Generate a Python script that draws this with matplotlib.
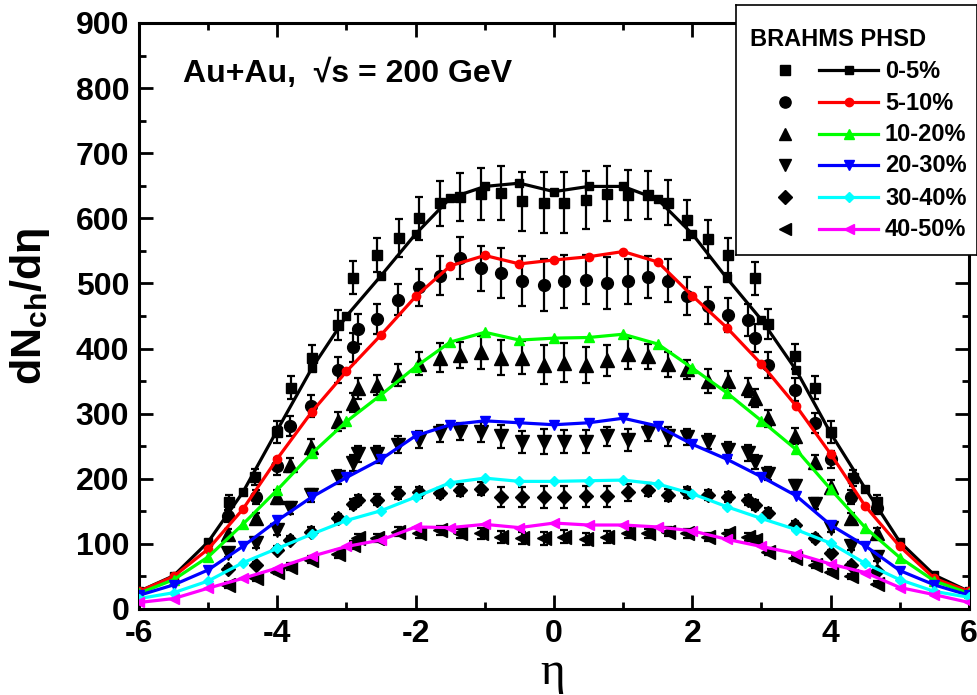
import matplotlib
matplotlib.use("Agg")
import matplotlib.pyplot as plt
from matplotlib.ticker import MultipleLocator, FuncFormatter

plt.rcParams['font.family'] = ['Liberation Sans', 'DejaVu Sans']
plt.rcParams['font.weight'] = 'bold'
plt.rcParams['mathtext.fontset'] = 'custom'
plt.rcParams['mathtext.rm'] = 'Liberation Sans:bold'
plt.rcParams['mathtext.it'] = 'Liberation Sans:bold'
plt.rcParams['mathtext.bf'] = 'Liberation Sans:bold'

# ---------------- data ----------------
centralities = ['0-5%', '5-10%', '10-20%', '20-30%', '30-40%', '40-50%']
line_colors = ['#000000', '#ff0000', '#00ff00', '#0000ff', '#00ffff', '#ff00ff']
marker_shapes = ['s', 'o', '^', 'v', 'D', '<']

# BRAHMS pseudorapidity points (0-5% set, and the set used for the other classes)
eta_brahms_a = [-4.70, -4.32, -4.00, -3.80, -3.50, -3.12, -2.90, -2.56, -2.24, -1.95,
                -1.65, -1.36, -1.06, -0.76, -0.46, -0.15, 0.15, 0.46, 0.76, 1.07,
                1.36, 1.65, 1.93, 2.22, 2.52, 2.91, 3.10, 3.48, 3.77, 4.01, 4.33, 4.67]
eta_brahms_b = [-4.72, -4.31, -4.00, -3.82, -3.52, -3.12, -2.90, -2.83, -2.56, -2.25,
                -1.95, -1.65, -1.36, -1.06, -0.76, -0.46, -0.15, 0.15, 0.46, 0.76,
                1.07, 1.36, 1.65, 1.93, 2.22, 2.52, 2.81, 2.91, 3.10, 3.48, 3.77,
                4.01, 4.30, 4.67]

brahms_0_5 = [165, 203, 272, 340, 386, 436, 509, 544, 570, 600,
              623, 633, 638, 639, 626, 624, 624, 628, 638, 636,
              636, 624, 597, 568, 543, 508, 438, 388, 340, 272, 201, 165]
brahms_0_5_err = [10, 12, 17, 18, 19, 23, 25, 26, 29, 33,
                  35, 37, 40, 42, 45, 47, 47, 44, 42, 39,
                  37, 35, 31, 29, 27, 25, 23, 19, 18, 17, 12, 10]

brahms_5_10 = [143, 172, 219, 281, 312, 367, 402, 430, 446, 475,
               494, 512, 539, 523, 516, 504, 497, 503, 506, 500,
               503, 510, 504, 481, 466, 452, 444, 416, 375, 337, 286,
               230, 172, 155]
brahms_5_10_err = [9, 11, 13, 15, 17, 20, 22, 23, 23, 24,
                   28, 30, 32, 35, 38, 38, 40, 40, 38, 40,
                   35, 32, 33, 29, 28, 26, 24, 22, 20, 18, 15,
                   13, 11, 9]

brahms_10_20 = [115, 139, 172, 221, 249, 288, 317, 339, 344, 359,
                377, 386, 390, 394, 386, 386, 375, 378, 375, 382,
                392, 388, 376, 368, 350, 350, 340, 324, 293, 266, 226,
                188, 139, 116]
brahms_10_20_err = [8, 9, 10, 11, 12, 14, 15, 16, 16, 17,
                    18, 22, 20, 25, 27, 25, 30, 30, 28, 24,
                    24, 19, 19, 15, 19, 15, 15, 14, 13, 12, 11,
                    10, 9, 8]

brahms_20_30 = [86, 101, 121, 155, 175, 203, 224, 238, 238, 252,
                260, 270, 272, 272, 265, 257, 257, 257, 257, 265,
                260, 270, 265, 264, 257, 244, 240, 226, 208, 189, 162,
                125, 96, 80]
brahms_20_30_err = [6, 7, 8, 9, 10, 11, 12, 12, 13, 13,
                    13, 13, 13, 15, 17, 17, 19, 18, 18, 14,
                    17, 12, 14, 12, 12, 12, 12, 11, 10, 9, 8,
                    7, 6, 6]

brahms_30_40 = [62, 68, 91, 106, 119, 139, 161, 167, 168, 178,
                179, 178, 183, 185, 172, 172, 172, 172, 173, 173,
                179, 183, 175, 179, 175, 172, 167, 160, 148, 129, 109,
                86, 68, 58]
brahms_30_40_err = [4, 4, 5, 6, 7, 7, 8, 8, 8, 9,
                    9, 8, 9, 10, 15, 15, 17, 17, 16, 16,
                    13, 10, 9, 8, 8, 8, 8, 8, 7, 6, 6,
                    5, 4, 4]

brahms_40_50 = [37, 47, 57, 65, 76, 85, 98, 109, 109, 119,
                116, 121, 116, 116, 111, 109, 109, 111, 107, 111,
                117, 116, 119, 116, 110, 116, 110, 106, 88, 78, 68,
                57, 50, 39]
brahms_40_50_err = [4, 4, 4, 5, 5, 6, 6, 6, 6, 7,
                    7, 7, 7, 8, 9, 9, 10, 10, 9, 9,
                    8, 7, 7, 7, 6, 6, 6, 6, 5, 5, 5,
                    4, 4, 4]

# PHSD calculation
eta_phsd = [-6.0, -5.5, -5.0, -4.5, -4.0, -3.5, -3.0, -2.5, -2.0, -1.5, -1.0, -0.5,
            0.0, 0.5, 1.0, 1.5, 2.0, 2.5, 3.0, 3.5, 4.0, 4.5, 5.0, 5.5, 6.0]
phsd_0_5 = [27, 51, 103, 179, 275, 370, 450, 512, 576, 631, 649, 654,
            641, 649, 649, 629, 576, 508, 444, 367, 270, 185, 103, 52, 27]
phsd_5_10 = [27, 50, 92, 153, 231, 303, 365, 421, 480, 527, 543, 530,
             536, 541, 549, 533, 481, 432, 376, 312, 238, 158, 96, 47, 27]
phsd_10_20 = [24, 45, 80, 130, 183, 239, 288, 329, 372, 410, 425, 413,
              416, 417, 422, 407, 370, 332, 289, 245, 184, 125, 79, 43, 24]
phsd_20_30 = [21, 37, 60, 96, 136, 172, 202, 230, 266, 283, 289, 286,
              283, 286, 293, 281, 253, 230, 203, 174, 129, 97, 59, 37, 21]
phsd_30_40 = [16, 25, 43, 71, 93, 115, 136, 151, 172, 194, 201, 196,
              196, 197, 198, 192, 177, 157, 139, 122, 101, 70, 45, 27, 18]
phsd_40_50 = [10, 16, 32, 47, 63, 81, 96, 106, 126, 125, 130, 125,
              132, 129, 129, 126, 120, 107, 96, 85, 69, 56, 33, 22, 10]

brahms_sets = [
    (eta_brahms_a, brahms_0_5, brahms_0_5_err),
    (eta_brahms_b, brahms_5_10, brahms_5_10_err),
    (eta_brahms_b, brahms_10_20, brahms_10_20_err),
    (eta_brahms_b, brahms_20_30, brahms_20_30_err),
    (eta_brahms_b, brahms_30_40, brahms_30_40_err),
    (eta_brahms_b, brahms_40_50, brahms_40_50_err),
]
phsd_sets = [phsd_0_5, phsd_5_10, phsd_10_20, phsd_20_30, phsd_30_40, phsd_40_50]

# ---------------- styling ----------------
data_ms = {'s': 7.5, 'o': 8.5, '^': 9.5, 'v': 9.5, 'D': 7.2, '<': 9.5}
model_ms = {'s': 5.5, 'o': 6.0, '^': 7.0, 'v': 7.0, 'D': 5.5, '<': 7.0}

W, H = 978, 695
fig = plt.figure(figsize=(W / 100, H / 100), dpi=100)
ax = fig.add_axes([139 / W, (H - 609) / H, 830 / W, 586 / H])

for (eta, vals, errs), mk in zip(brahms_sets, marker_shapes):
    ax.errorbar(eta, vals, yerr=errs, fmt=mk, color='black', ms=data_ms[mk],
                ecolor='black', elinewidth=1.6, capsize=3.2, capthick=1.6,
                zorder=3)

for vals, col, mk in zip(phsd_sets, line_colors, marker_shapes):
    ax.plot(eta_phsd, vals, color=col, lw=2.3, marker=mk, ms=model_ms[mk],
            markeredgecolor=col, markerfacecolor=col, zorder=4)

ax.set_xlim(-6, 6)
ax.set_ylim(0, 900)
ax.xaxis.set_major_locator(MultipleLocator(2))
ax.xaxis.set_minor_locator(MultipleLocator(1))
ax.yaxis.set_major_locator(MultipleLocator(100))
ax.yaxis.set_minor_locator(MultipleLocator(50))
ax.tick_params(which='both', direction='in', top=True, right=True, width=2)
ax.tick_params(which='major', length=10, labelsize=23, pad=7)
ax.tick_params(which='minor', length=5)
ax.xaxis.set_major_formatter(FuncFormatter(lambda v, p: f'{v:.0f}'))
for lab in ax.get_xticklabels() + ax.get_yticklabels():
    lab.set_fontweight('bold')
for sp in ax.spines.values():
    sp.set_linewidth(2.2)

fig.text(183 / W, (H - 82) / H, 'Au+Au,  \u221As = 200 GeV', fontsize=23,
         fontweight='bold', ha='left', va='baseline')

fig.text(30 / W, (H - 306) / H, r'$dN_{ch}/d\eta$', fontsize=31,
         rotation=90, ha='center', va='center')
fig.text(553 / W, (H - 684) / H, '\u03b7', fontsize=34,
         family=['Liberation Serif', 'DejaVu Serif'], fontweight='normal',
         ha='center', va='baseline')

# ---------------- legend box ----------------
lx0, lx1, ly0, ly1 = 736, 977, 5, 255
lax = fig.add_axes([lx0 / W, (H - ly1) / H, (lx1 - lx0) / W, (ly1 - ly0) / H])
lax.set_xlim(lx0, lx1)
lax.set_ylim(ly1, ly0)
lax.set_xticks([])
lax.set_yticks([])
lax.set_facecolor('white')
for sp in lax.spines.values():
    sp.set_linewidth(1.2)
lax.set_zorder(10)

lax.text(750, 46, 'BRAHMS PHSD', fontsize=17, fontweight='bold',
         ha='left', va='baseline')
row_y = [70, 102, 133.5, 165, 197, 228.5]
for ry, lab, col, mk in zip(row_y, centralities, line_colors, marker_shapes):
    lax.plot([785], [ry], marker=mk, color='black', ms=data_ms[mk] * 0.95, ls='none')
    lax.plot([819, 878], [ry, ry], color=col, lw=2.3)
    lax.plot([849], [ry], marker=mk, color=col, ms=model_ms[mk], ls='none')
    lax.text(885, ry + 1, lab, fontsize=17, fontweight='bold', ha='left', va='center')

fig.savefig('out.png', dpi=100)
